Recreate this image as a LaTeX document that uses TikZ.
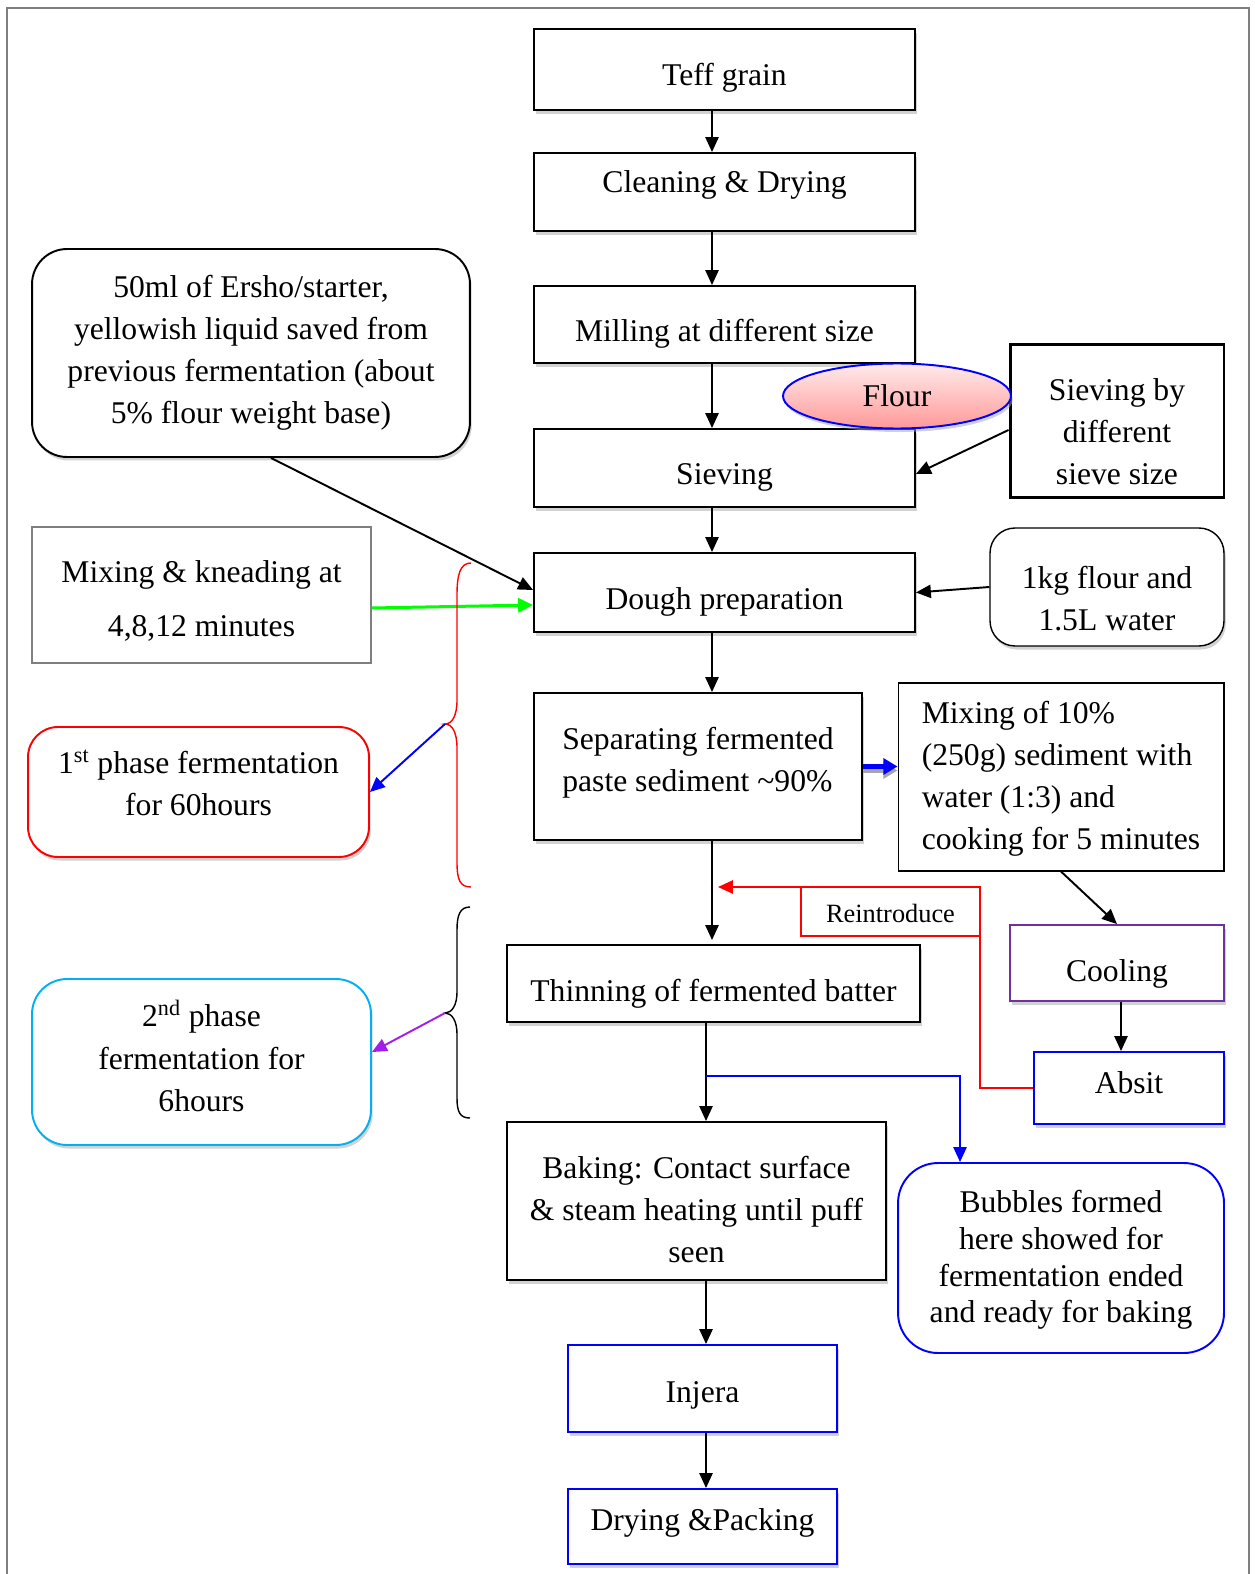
\documentclass[tikz,border=0pt]{standalone}
\usepackage{fontspec}
\setmainfont{Liberation Serif}
\usetikzlibrary{arrows.meta,shadows,shapes.geometric}
\definecolor{ijblue}{HTML}{0000FF}
\definecolor{ijred}{HTML}{FF0000}
\definecolor{ijgreen}{HTML}{00FF00}
\definecolor{ijpurple}{HTML}{7030A0}
\definecolor{ijviolet}{HTML}{A21FE8}
\definecolor{ijcyan}{HTML}{00B0F0}
\definecolor{ijgray}{HTML}{7F7F7F}
\newcommand{\txtdown}[1]{\rule{0pt}{#1}}
\newcommand{\txtup}[1]{\rule[-#1]{0pt}{#1}}

\begin{document}
\begin{tikzpicture}[x=0.02cm, y=-0.02cm,
    every node/.style={font=\fontsize{18}{24}\selectfont, align=center, inner sep=0pt},
    stepbox/.style={draw, line width=1.1pt, fill=white, drop shadow={shadow xshift=1pt, shadow yshift=-2pt, fill=gray!70}},
    roundbox/.style={stepbox, rounded corners=0.7cm},
    flow/.style={line width=1.1pt, -{Triangle[length=8.5pt,width=7.5pt]}}]
      \useasboundingbox (0,0) rectangle (1254,1574);
      \draw[ijgray, line width=1pt] (7,1574) -- (7,8) -- (1249,8) -- (1249,1574);

      \node[stepbox, minimum width=7.62cm, minimum height=1.62cm] (teff) at (724.5,69.5) {\txtdown{21.6pt}Teff grain};
      \node[stepbox, minimum width=7.62cm, minimum height=1.56cm] (clean) at (724.5,192) {Cleaning \& Drying\txtup{11.8pt}};
      \node[stepbox, minimum width=7.62cm, minimum height=1.54cm] (mill) at (724.5,324.5) {\txtdown{22.7pt}Milling at different size};
      \node[stepbox, minimum width=7.62cm, minimum height=1.56cm] (sieve) at (724.5,468) {\txtdown{22.7pt}Sieving};
      \node[draw, line width=1.7pt, minimum width=4.28cm, minimum height=3.08cm] (sieveby) at (1117,421) {\txtdown{25pt}Sieving by\\different\\sieve size};
      \node[stepbox, ellipse, draw=ijblue, top color=red!8, bottom color=red!40, minimum width=4.56cm, minimum height=1.3cm] (flour) at (897,396) {Flour};
      \node[roundbox, minimum width=8.76cm, minimum height=4.16cm] (starter) at (251,353) {50ml of Ersho/starter,\\yellowish liquid saved from\\previous fermentation (about\\5\% flour weight base)};
      \node[stepbox, minimum width=7.62cm, minimum height=1.58cm] (dough) at (724.5,592.5) {\txtdown{22.7pt}Dough preparation};
      \node[draw=ijgray, line width=0.8pt, minimum width=6.78cm, minimum height=2.72cm, font=\fontsize{18}{31}\selectfont] (mixknead) at (201.5,595) {\txtdown{19.3pt}Mixing \& kneading at\\4,8,12 minutes};
      \node[roundbox, rounded corners=0.5cm, line width=0.8pt, minimum width=4.68cm, minimum height=2.36cm] (onekg) at (1107,587) {\txtdown{26pt}1kg flour and\\1.5L water};
      \node[stepbox, align=left, minimum width=6.56cm, minimum height=2.94cm] (separ) at (698,766.5) {Separating fermented\\paste sediment \textasciitilde90\%\txtup{8.4pt}};
      \node[draw, line width=0.6pt, align=left, minimum width=6.52cm, minimum height=3.76cm] (mix10) at (1061,777) {\txtdown{14.8pt}Mixing of 10\%\\(250g) sediment with\\water (1:3) and\\cooking for 5 minutes};
      \node[roundbox, draw=ijred, rounded corners=0.6cm, minimum width=6.82cm, minimum height=2.6cm] (first) at (198.5,792) {1\textsuperscript{st} phase fermentation\\for 60hours\txtup{10.4pt}};
      \node[stepbox, draw=ijpurple, minimum width=4.28cm, minimum height=1.52cm] (cooling) at (1117,963) {\txtdown{25pt}Cooling};
      \node[stepbox, draw=ijblue, minimum width=3.8cm, minimum height=1.44cm] (absit) at (1129,1088) {Absit\txtup{5.9pt}};
      \node[stepbox, minimum width=8.26cm, minimum height=1.54cm] (thin) at (713.5,983.5) {\txtdown{23.8pt}Thinning of fermented batter};
      \node[roundbox, draw=ijcyan, minimum width=6.78cm, minimum height=3.32cm] (second) at (201.5,1062) {2\textsuperscript{nd} phase\\fermentation for\\6hours\txtup{7pt}};
      \node[stepbox, minimum width=7.58cm, minimum height=3.16cm] (bake) at (696.5,1201) {\txtdown{22.7pt}Baking: Contact surface\\\& steam heating until puff\\seen};
      \node[draw=ijblue, line width=1.1pt, rounded corners=0.8cm, fill=white, minimum width=6.52cm, minimum height=3.8cm, font=\fontsize{18}{21}\selectfont] (bubbles) at (1061,1258) {\txtdown{14.8pt}Bubbles formed\\here showed for\\fermentation ended\\and ready for baking};
      \node[stepbox, draw=ijblue, minimum width=5.38cm, minimum height=1.74cm] (injera) at (702.5,1388.5) {\txtdown{19.3pt}Injera};
      \node[stepbox, draw=ijblue, minimum width=5.38cm, minimum height=1.5cm] (drying) at (702.5,1526.5) {Drying \&Packing\txtup{8.4pt}};

      \coordinate (spine) at (712,0);
      \coordinate (lowspine) at (706,0);
      \coordinate (redtip) at (445,724);
      \coordinate (blacktip) at (445,1013);
      \coordinate (rcorner) at (980,887);
      \coordinate (reinend) at (718,887);
      \coordinate (bsplit) at (706,1076);

      \draw[flow] (teff.south -| spine) -- (clean.north -| spine);
      \draw[flow] (clean.south -| spine) -- (mill.north -| spine);
      \draw[flow] (mill.south -| spine) -- (sieve.north -| spine);
      \draw[flow] (sieve.south -| spine) -- (dough.north -| spine);
      \draw[flow] (dough.south -| spine) -- (separ.north -| spine);
      \draw[flow] (separ.south -| spine) -- ([yshift=0.08cm]thin.north -| spine);
      \draw[flow] (thin.south -| lowspine) -- (bake.north -| lowspine);
      \draw[flow] (bake.south -| lowspine) -- (injera.north -| lowspine);
      \draw[flow] (injera.south -| lowspine) -- (drying.north -| lowspine);
      \draw[flow] ([xshift=0.4cm]starter.south) -- ([yshift=0.05cm]dough.west);
      \draw[flow, ijgreen, line width=1.7pt, -{Triangle[length=8.5pt,width=8pt]}] ([yshift=-0.26cm]mixknead.east) -- ([yshift=-0.25cm]dough.west);
      \draw[flow] (onekg.west) -- (dough.east);
      \draw[flow] ([yshift=-0.18cm]sieveby.west) -- ([yshift=-0.12cm]sieve.east);
      \draw[gray!70, line width=3pt, -{Triangle[length=8pt,width=9pt]}] ([yshift=-0.08cm]separ.east) -- ([yshift=-0.08cm]separ.east -| mix10.west);
      \draw[ijblue, line width=3pt, -{Triangle[length=8pt,width=9pt]}] (separ.east) -- (separ.east -| mix10.west);
      \draw[flow] (mix10.south) -- (cooling.north);
      \draw[flow] ([xshift=-0.16cm]cooling.south -| absit.north) -- ([xshift=-0.16cm]absit.north);
      \draw[flow, ijred] (absit.west) -| (rcorner) -- (reinend);
      \node[draw=ijred, line width=1.1pt, minimum width=3.58cm, minimum height=0.98cm, font=\fontsize{15}{18}\selectfont] (reint) at (890.5,911.5) {\txtdown{12.7pt}Reintroduce};
      \draw[flow, ijblue] (bsplit) -| ([xshift=-2.02cm]bubbles.north);

      \draw[ijred, line width=0.8pt] (471,563) .. controls (460,563) and (457,575) .. (457,595) -- (457,700) .. controls (457,716) and (452,724) .. (redtip) .. controls (452,724) and (457,732) .. (457,748) -- (457,862) .. controls (457,880) and (460,887) .. (471,887);
      \draw[line width=0.8pt] (470,907) .. controls (460,907) and (457,915) .. (457,930) -- (457,992) .. controls (457,1005) and (452,1013) .. (blacktip) .. controls (452,1013) and (457,1021) .. (457,1034) -- (457,1098) .. controls (457,1112) and (460,1118) .. (470,1118);
      \draw[flow, ijblue] (redtip) -- (first.east);
      \draw[flow, ijviolet] (blacktip) -- ([yshift=0.2cm]second.east);
    \end{tikzpicture}
\end{document}
